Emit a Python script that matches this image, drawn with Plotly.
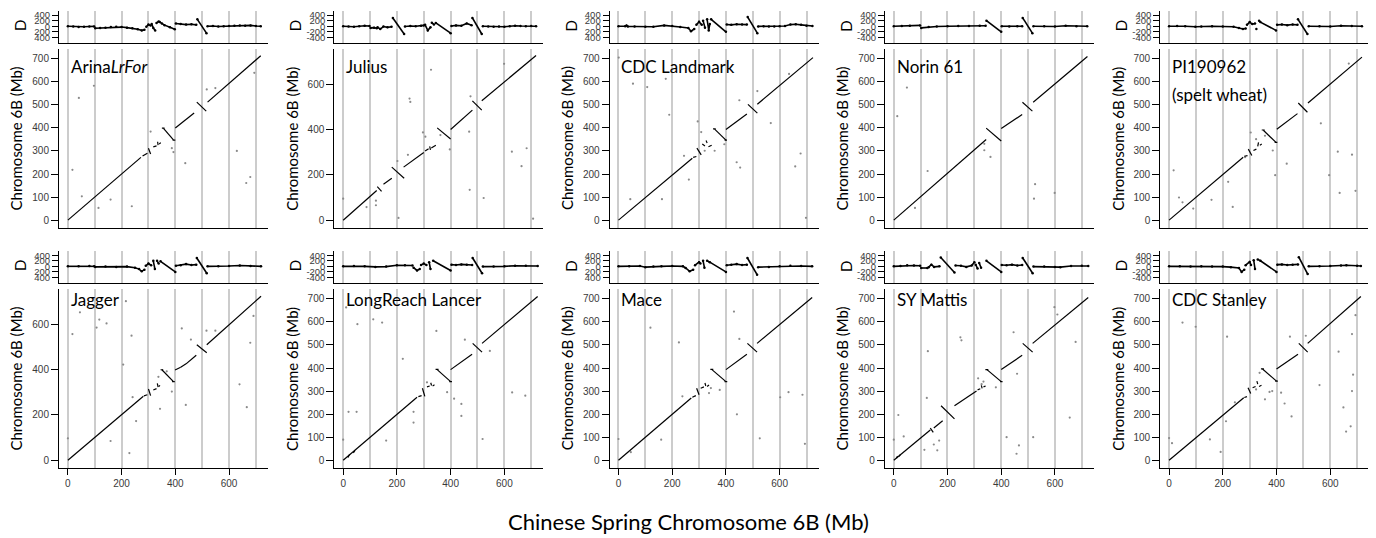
import plotly.graph_objects as go

# ---------------- data ----------------
panel_names = ["Arina<i>LrFor</i>", "Julius", "CDC Landmark", "Norin 61", "PI190962",
               "Jagger", "LongReach Lancer", "Mace", "SY Mattis", "CDC Stanley"]
panel_sub = ["", "", "", "", "(spelt wheat)", "", "", "", "", ""]
main_ytick_step = [100, 200, 100, 100, 100, 200, 100, 100, 100, 100]
d_minus_shown = [False, True, False, True, True, False, True, False, True, True]
x_ticks = [0, 200, 400, 600]
grid_x = [0, 100, 200, 300, 400, 500, 600, 700]
d_ticks = [-400, -200, 0, 200, 400]

# collinear segments (x0, y0, x1, y1) in Mb
seg_arina = [(0, 0, 272, 272), (278, 278, 296, 290), (300, 312, 308, 287), (318, 318, 330, 322),
             (334, 340, 336, 325), (340, 330, 346, 336), (356, 398, 393, 348), (350, 399, 360, 399),
             (390, 347, 400, 347), (400, 400, 470, 465), (480, 512, 515, 473), (520, 512, 718, 713)]
seg_julius = [(0, 0, 125, 131), (127, 148, 143, 127), (150, 159, 181, 185), (181, 234, 227, 185),
              (225, 234, 300, 298), (305, 305, 318, 315), (322, 325, 325, 310), (328, 318, 345, 330),
              (350, 407, 400, 358), (400, 400, 481, 485), (481, 526, 516, 485), (516, 526, 718, 726)]
seg_landmark = [(0, 0, 275, 268), (278, 272, 290, 276), (292, 312, 308, 283), (312, 330, 322, 322),
                (326, 345, 330, 335), (335, 318, 347, 325), (358, 395, 400, 347), (352, 396, 362, 396),
                (395, 347, 404, 347), (400, 393, 478, 460), (482, 502, 517, 464), (517, 503, 724, 705)]
seg_norin = [(0, 0, 344, 350), (344, 399, 400, 343), (400, 397, 478, 458), (479, 511, 516, 473),
             (519, 511, 721, 710)]
seg_pi = [(0, 0, 276, 273), (280, 277, 292, 280), (295, 308, 308, 280), (314, 302, 325, 308),
          (330, 320, 333, 337), (338, 325, 345, 330), (351, 390, 398, 337), (345, 391, 356, 391),
          (393, 337, 403, 337), (401, 394, 478, 462), (481, 508, 515, 468), (517, 508, 718, 707)]
seg_jagger = [(0, 0, 281, 282), (283, 284, 296, 289), (300, 314, 308, 285), (318, 310, 330, 316),
              (333, 339, 336, 322), (338, 325, 343, 330), (350, 399, 393, 347), (345, 399, 355, 399),
              (388, 347, 398, 347), (399, 398, 420, 410), (420, 410, 440, 425), (440, 425, 478, 463),
              (480, 509, 517, 474), (517, 509, 719, 723)]
seg_lancer = [(0, 0, 275, 273), (18, 12, 24, 26), (38, 32, 44, 42), (280, 276, 292, 280),
              (295, 312, 304, 277), (312, 318, 322, 322), (326, 336, 329, 324), (333, 322, 340, 327),
              (350, 393, 400, 341), (344, 394, 355, 394), (395, 341, 405, 341), (400, 393, 480, 460),
              (482, 507, 517, 469), (517, 507, 724, 710)]
seg_mace = [(0, 0, 271, 270), (275, 273, 288, 280), (291, 312, 300, 284), (306, 312, 318, 318),
            (322, 335, 325, 322), (330, 320, 337, 326), (348, 393, 400, 341), (342, 394, 353, 394),
            (395, 341, 405, 341), (400, 393, 478, 460), (480, 507, 516, 469), (516, 507, 721, 706)]
seg_mattis = [(0, 0, 136, 131), (10, 8, 14, 18), (20, 16, 24, 24), (136, 139, 147, 121),
              (149, 140, 182, 171), (176, 236, 226, 179), (226, 236, 308, 300), (312, 305, 322, 310),
              (326, 325, 329, 312), (334, 318, 342, 322), (347, 393, 400, 341), (341, 393, 352, 393),
              (396, 341, 405, 341), (400, 393, 478, 455), (480, 507, 517, 469), (517, 507, 724, 706)]
seg_stanley = [(0, 0, 278, 271), (280, 272, 290, 276), (294, 314, 304, 289), (311, 314, 322, 320),
               (327, 343, 330, 330), (335, 320, 344, 325), (348, 396, 400, 343), (342, 396, 353, 396),
               (395, 343, 405, 343), (400, 396, 480, 460), (483, 507, 516, 469), (516, 507, 714, 710)]

# scattered off-diagonal hits
stray_x_arina = [17, 41, 52, 97, 114, 159, 238, 308, 387, 393, 437, 517, 549, 629, 664, 679, 694]
stray_y_arina = [218, 530, 103, 583, 53, 89, 60, 384, 312, 295, 247, 567, 573, 300, 161, 187, 639]
stray_x_julius = [0, 87, 122, 122, 202, 206, 247, 250, 241, 327, 297, 306, 362, 397, 471, 469, 474, 523, 599, 628, 664, 683, 707]
stray_y_julius = [95, 58, 86, 66, 261, 10, 536, 521, 288, 663, 387, 368, 375, 312, 134, 390, 546, 98, 689, 302, 238, 317, 7]
stray_x_landmark = [1, 44, 54, 107, 162, 176, 189, 262, 244, 295, 308, 321, 358, 394, 440, 453, 450, 517, 567, 658, 678, 698, 635]
stray_y_landmark = [705, 91, 592, 577, 91, 613, 457, 176, 279, 428, 382, 301, 301, 329, 251, 228, 520, 560, 421, 233, 289, 10, 634]
stray_x_norin = [13, 49, 79, 126, 337, 337, 360, 526, 522, 599]
stray_y_norin = [451, 575, 53, 213, 331, 303, 274, 156, 93, 118]
stray_x_pi = [17, 37, 50, 90, 158, 220, 237, 283, 304, 324, 357, 386, 438, 395, 565, 596, 628, 635, 681, 694, 669]
stray_y_pi = [216, 98, 77, 50, 88, 166, 57, 273, 380, 351, 366, 302, 245, 195, 420, 195, 297, 118, 284, 127, 679]
stray_x_jagger = [0, 17, 45, 107, 117, 144, 159, 216, 206, 229, 237, 241, 254, 337, 343, 368, 387, 424, 439, 458, 516, 549, 639, 666, 679, 691]
stray_y_jagger = [97, 556, 652, 585, 620, 603, 85, 701, 422, 32, 549, 278, 173, 368, 227, 392, 303, 581, 244, 532, 571, 571, 335, 234, 518, 636]
stray_x_lancer = [0, 11, 20, 50, 53, 112, 145, 160, 222, 262, 262, 312, 347, 387, 413, 440, 440, 453, 519, 546, 629, 678]
stray_y_lancer = [89, 663, 210, 210, 590, 611, 597, 85, 440, 210, 163, 338, 561, 295, 267, 244, 192, 523, 92, 474, 294, 280]
stray_x_mace = [0, 46, 119, 159, 225, 238, 337, 344, 377, 430, 441, 450, 526, 602, 633, 685, 694]
stray_y_mace = [92, 35, 575, 89, 511, 277, 291, 313, 305, 645, 199, 526, 95, 273, 295, 284, 71]
stray_x_mattis = [0, 17, 37, 114, 123, 127, 149, 162, 169, 248, 252, 314, 327, 334, 380, 420, 446, 459, 457, 466, 519, 598, 609, 655, 677]
stray_y_mattis = [89, 196, 103, 45, 270, 473, 68, 43, 85, 533, 520, 355, 330, 341, 316, 100, 555, 375, 28, 64, 100, 664, 632, 185, 513]
stray_x_stanley = [0, 11, 50, 99, 152, 192, 216, 212, 245, 324, 337, 357, 374, 384, 417, 430, 456, 450, 509, 560, 631, 649, 659, 681, 685, 676, 681, 694]
stray_y_stanley = [96, 74, 597, 579, 90, 36, 536, 169, 251, 307, 379, 264, 296, 300, 293, 246, 190, 536, 540, 326, 471, 229, 124, 300, 371, 147, 547, 629]

# D profile (None = break between runs)
dx_arina = [0, 20, 40, 60, 80, 98, None, 102, 120, 140, 160, 180, 200, 220, 240, 260, 275, 285, None, 292, 300, 308, None,
            312, 318, 325, None, 330, 338, None, 342, 350, 360, 380, 398, None, 402, 420, 440, 460, 478, None, 482, 516, None,
            520, 540, 560, 580, 600, 620, 640, 660, 680, 700, 718]
dd_arina = [0, -10, -30, -20, -10, -5, None, -70, -60, -50, -30, -20, -30, -50, -70, -110, -150, -130, None, -20, 60, 30, None,
            80, -60, -150, None, 120, 170, None, 150, 100, 40, -40, -110, None, 100, 80, 60, 70, 50, None, 250, -250, None,
            0, 10, -10, 0, 10, 20, 30, 20, 30, 10, 0]
dx_julius = [0, 20, 40, 60, 80, 98, None, 102, 115, 125, None, 128, 138, 150, 165, 180, None, 185, 227, None, 230, 250, 270, 290, 300,
             None, 305, 315, 325, None, 330, 338, None, 345, 400, None, 403, 420, 440, 460, 478, None, 481, 516, None,
             520, 540, 560, 580, 600, 620, 640, 660, 680, 700, 718]
dd_julius = [0, -10, -20, 0, 20, 10, None, -60, -50, -70, None, -40, -100, -10, -40, -20, None, 300, -280, None, -10, 10, 0, 20, 30,
             None, 50, -150, -40, None, 130, 60, None, 120, -250, None, 10, 30, 20, 100, 40, None, 300, -280, None,
             0, -10, -20, -10, -20, 0, 20, 10, 0, 10, 0]
dx_landmark = [0, 25, 30, 35, 60, 100, 130, 170, 200, 230, 260, 270, 282, None, 290, 300, 310, None, 315, 322, None, 330, 336, 340,
               None, 345, 400, None, 403, 420, 440, 460, 478, None, 481, 517, None, 520, 540, 560, 580, 600, 620, 640, 660, 680, 700, 722]
dd_landmark = [0, 0, 30, -10, -10, -20, -20, 30, 10, -30, -60, -180, -100, None, 50, 160, 50, None, 200, -50, None, 250, -150, 80,
               None, 250, -200, None, 60, 50, 70, 60, 60, None, 330, -250, None, -5, 0, -10, -5, 0, 10, 60, 70, 50, 20, 10]
dx_norin = [0, 30, 60, 98, None, 102, 130, 160, 200, 240, 280, 320, 342, None, 345, 400, None, 402, 430, 460, 478, None,
            480, 516, None, 520, 560, 600, 640, 680, 720]
dd_norin = [0, 10, 20, 30, None, -60, -30, -10, 0, 10, 10, 20, 20, None, 200, -200, None, 0, -10, 0, 0, None,
            300, -250, None, 0, 0, -10, 20, 0, 0]
dx_pi = [0, 30, 60, 98, 120, 160, 200, 240, 260, 275, 285, None, 290, 300, 310, 320, None, 325, None, 335, 340, 398, None,
         402, 420, 440, 460, 478, None, 480, 515, None, 520, 560, 600, 640, 680, 718]
dd_pi = [0, 10, 0, -20, -10, 0, -10, -20, -60, -100, -80, None, 50, 150, 80, 100, None, -100, None, 200, 150, -150, None,
         50, 60, 40, 60, 50, None, 250, -280, None, 0, 0, -10, 20, 10, 0]
dx_jagger = [0, 40, 80, 98, None, 102, 140, 180, 220, 250, 265, 275, 285, None, 290, 300, 310, None, 318, 324, None, 332, 338,
             None, 345, 400, None, 402, 420, 440, 460, 478, None, 480, 517, None, 520, 560, 600, 640, 680, 719]
dd_jagger = [0, 0, 10, 0, None, -20, -10, -20, -10, -50, -100, -180, -120, None, 20, 100, 40, None, 200, -100, None, 200, 100,
             None, 180, -200, None, 20, 40, 80, 50, 60, None, 300, -250, None, 0, 0, 10, 30, 10, 0]
dx_lancer = [0, 40, 80, 120, 160, 200, 230, 258, None, 262, 275, 285, None, 290, 300, 310, None, 320, 325, None, 335, 400,
             None, 403, 420, 440, 460, 480, None, 482, 517, None, 520, 560, 600, 640, 680, 724]
dd_lancer = [0, 10, 0, -20, -10, 40, 40, 30, None, -50, -150, -100, None, 50, 100, 50, None, 150, -100, None, 200, -150,
             None, 60, 50, 70, 60, 50, None, 300, -250, None, -10, -10, 0, 20, 20, 10]
dx_mace = [0, 40, 80, 100, 130, 160, 200, 240, 250, 265, 278, None, 285, 300, 305, None, 315, 320, None, 330, 340, 400,
           None, 403, 420, 440, 460, 478, None, 480, 516, None, 520, 560, 600, 640, 680, 721]
dd_mace = [0, 0, 10, -30, -10, 0, 10, 0, -60, -180, -120, None, 40, 150, 100, None, 200, -50, None, 200, 150, -200,
           None, 40, 60, 80, 50, 60, None, 300, -300, None, -30, -20, 0, 20, 10, 0]
dx_mattis = [0, 25, 50, 75, 98, None, 102, 125, None, 130, 140, 150, 170, None, 175, 226, None, 230, 250, 270, 290, 300,
             None, 305, 312, None, 318, 325, None, 345, 400, None, 402, 420, 440, 460, 478, None, 480, 517, None,
             520, 560, 600, 620, 660, 700, 724]
dd_mattis = [0, 10, 40, 30, 20, None, -60, -60, None, -30, 60, -20, 0, None, 320, -220, None, 30, 20, -20, 30, 150,
             None, 60, -80, None, 120, -50, None, 200, -200, None, 50, 40, 60, 30, 50, None, 300, -250, None,
             -10, -10, -20, -30, 10, 20, 10]
dx_stanley = [0, 40, 80, 120, 160, 200, 230, 260, 270, 280, None, 285, 300, 305, None, 315, 320, None, 330, 340, 400,
              None, 403, 420, 440, 460, 480, None, 483, 516, None, 520, 560, 600, 640, 660, 700, 714]
dd_stanley = [0, 0, -10, 0, -10, -10, -30, -60, -200, -120, None, 40, 160, 50, None, 220, -100, None, 250, 200, -200,
              None, 60, 70, 50, 60, 70, None, 330, -280, None, 0, 0, 10, 30, 40, 20, 10]
d_outlier_x = [339]      # PI190962 point above the D window
d_outlier_d = [760]

segments = [seg_arina, seg_julius, seg_landmark, seg_norin, seg_pi,
            seg_jagger, seg_lancer, seg_mace, seg_mattis, seg_stanley]
stray_x = [stray_x_arina, stray_x_julius, stray_x_landmark, stray_x_norin, stray_x_pi,
           stray_x_jagger, stray_x_lancer, stray_x_mace, stray_x_mattis, stray_x_stanley]
stray_y = [stray_y_arina, stray_y_julius, stray_y_landmark, stray_y_norin, stray_y_pi,
           stray_y_jagger, stray_y_lancer, stray_y_mace, stray_y_mattis, stray_y_stanley]
d_x = [dx_arina, dx_julius, dx_landmark, dx_norin, dx_pi, dx_jagger, dx_lancer, dx_mace, dx_mattis, dx_stanley]
d_d = [dd_arina, dd_julius, dd_landmark, dd_norin, dd_pi, dd_jagger, dd_lancer, dd_mace, dd_mattis, dd_stanley]

# ---------------- layout (window pixels) ----------------
WIN_W, WIN_H = 1376, 538
PAGE_OFF = 8                     # default <body> margin of the html page
W, H = WIN_W - PAGE_OFF, WIN_H - PAGE_OFF
COL_LEFT, COL_STEP, PLOT_W = 59, 275.3, 209
MAIN_ROWS = [(47, 227), (288, 468)]
D_ROWS = [(9, 41), (250, 282)]
LABEL_Y = [65, 299]
XR = [-33, 745]
DR = [-600, 550]
TICK_FONT = dict(family="Liberation Sans, Arial, sans-serif", size=10, color="#3a3a3a")
TEXT_FONT = "Lato, Open Sans, sans-serif"
GRID = "#cccccc"

fig = go.Figure()
annotations = []
layout = {}


def px_x(p):
    return (p - PAGE_OFF) / W


def px_y(p):
    return 1 - (p - PAGE_OFF) / H


for i in range(10):
    r, c = divmod(i, 5)
    left = COL_LEFT + COL_STEP * c
    xdom = [px_x(left), px_x(left + PLOT_W)]
    km, kd = 2 * i + 1, 2 * i + 2
    mt, mb = MAIN_ROWS[r]
    dt, db = D_ROWS[r]

    # main dot plot
    sx, sy = [], []
    for (x0, y0, x1, y1) in segments[i]:
        sx += [x0, x1, None]
        sy += [y0, y1, None]
    fig.add_trace(go.Scatter(x=stray_x[i], y=stray_y[i], mode="markers", xaxis=f"x{km}", yaxis=f"y{km}",
                             marker=dict(size=2.2, color="#8a8a8a"), showlegend=False, hoverinfo="skip"))
    fig.add_trace(go.Scatter(x=sx, y=sy, mode="lines", xaxis=f"x{km}", yaxis=f"y{km}",
                             line=dict(color="black", width=1.2), showlegend=False, hoverinfo="skip"))
    # D profile
    fig.add_trace(go.Scatter(x=d_x[i], y=d_d[i], mode="lines+markers", xaxis=f"x{kd}", yaxis=f"y{kd}",
                             line=dict(color="black", width=1.6), marker=dict(size=2.5, color="black"),
                             showlegend=False, hoverinfo="skip"))
    if i == 4:
        fig.add_trace(go.Scatter(x=d_outlier_x, y=d_outlier_d, mode="markers", xaxis=f"x{kd}", yaxis=f"y{kd}",
                                 marker=dict(size=2.5, color="black"), cliponaxis=False,
                                 showlegend=False, hoverinfo="skip"))

    top_ymax = 755 if main_ytick_step[i] == 200 else 743
    ytv = list(range(0, 701, main_ytick_step[i]))
    common_x = dict(domain=xdom, range=XR, showgrid=False, zeroline=False, showline=True,
                    linecolor="black", linewidth=1, mirror=False,
                    minor=dict(tickvals=grid_x, showgrid=True, gridcolor=GRID, gridwidth=1.6, ticks=""))
    layout[f"xaxis{km}"] = dict(common_x, anchor=f"y{km}",
                                tickvals=x_ticks if r == 1 else [],
                                ticks="outside" if r == 1 else "", ticklen=6, tickcolor="black",
                                showticklabels=(r == 1), tickfont=TICK_FONT)
    layout[f"xaxis{kd}"] = dict(common_x, anchor=f"y{kd}", tickvals=[], ticks="", showticklabels=False)
    layout[f"yaxis{km}"] = dict(domain=[px_y(mb), px_y(mt)], range=[-35, top_ymax], anchor=f"x{km}",
                                showgrid=False, zeroline=False, showline=True, linecolor="black", linewidth=1,
                                tickvals=ytv, ticks="outside", ticklen=7, tickcolor="black", tickfont=TICK_FONT)
    dtext = [(("-" if d_minus_shown[i] else "") + str(abs(v))) if v < 0 else str(v) for v in d_ticks]
    layout[f"yaxis{kd}"] = dict(domain=[px_y(db), px_y(dt)], range=DR, anchor=f"x{kd}",
                                showgrid=False, zeroline=False, showline=True, linecolor="black", linewidth=1,
                                tickvals=d_ticks, ticktext=dtext, ticks="outside", ticklen=6, tickcolor="black",
                                tickfont=dict(TICK_FONT, size=9.5))

    # texts
    annotations.append(dict(text="Chromosome 6B (Mb)", textangle=-90, xref="paper", yref="paper",
                            x=px_x(left - 43), y=px_y((mt + mb) / 2), xanchor="center", yanchor="middle",
                            showarrow=False, font=dict(family=TEXT_FONT, size=15, color="black")))
    annotations.append(dict(text="D", textangle=-90, xref="paper", yref="paper",
                            x=px_x(left - 39), y=px_y((dt + db) / 2 - 1), xanchor="center", yanchor="middle",
                            showarrow=False, font=dict(family=TEXT_FONT, size=15, color="black")))
    annotations.append(dict(text=panel_names[i], xref=f"x{km}", yref="paper", x=0, xshift=1,
                            y=px_y(LABEL_Y[r]), xanchor="left", yanchor="middle", showarrow=False,
                            font=dict(family=TEXT_FONT, size=17, color="black")))
    if panel_sub[i]:
        annotations.append(dict(text=panel_sub[i], xref=f"x{km}", yref="paper", x=0, xshift=1,
                                y=px_y(LABEL_Y[r] + 28), xanchor="left", yanchor="middle", showarrow=False,
                                font=dict(family=TEXT_FONT, size=17, color="black")))

annotations.append(dict(text="Chinese Spring Chromosome 6B (Mb)", xref="paper", yref="paper",
                        x=px_x(688), y=px_y(521), showarrow=False, xanchor="center", yanchor="middle",
                        font=dict(family=TEXT_FONT, size=22, color="black")))

fig.update_layout(width=W, height=H, margin=dict(l=0, r=0, t=0, b=0), paper_bgcolor="white",
                  plot_bgcolor="white", annotations=annotations, showlegend=False, **layout)
fig.write_html("out.html")
